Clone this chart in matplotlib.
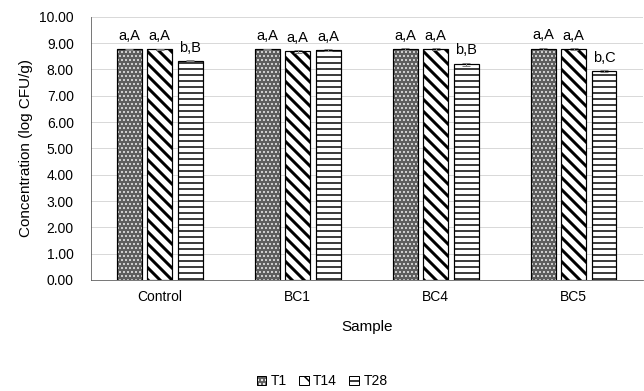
import numpy as np
import matplotlib.pyplot as plt
from matplotlib.patches import Patch
from matplotlib.legend_handler import HandlerTuple

plt.rcParams['font.family'] = ['Liberation Sans', 'DejaVu Sans']

# Data
samples = ['Control', 'BC1', 'BC4', 'BC5']
series = ['T1', 'T14', 'T28']
t1 = [8.77, 8.76, 8.77, 8.79]
t14 = [8.77, 8.69, 8.78, 8.78]
t28 = [8.33, 8.73, 8.20, 7.93]
t1_err = [0.02, 0.03, 0.05, 0.04]
t14_err = [0.02, 0.05, 0.03, 0.03]
t28_err = [0.01, 0.04, 0.06, 0.03]
t1_lab = ['a,A', 'a,A', 'a,A', 'a,A']
t14_lab = ['a,A', 'a,A', 'a,A', 'a,A']
t28_lab = ['b,B', 'a,A', 'b,B', 'b,C']

values = [t1, t14, t28]
errors = [t1_err, t14_err, t28_err]
labels = [t1_lab, t14_lab, t28_lab]

# drawn at 72 dpi so hatch spacing matches the reference
DPI = 72
k = 100 / 72  # font scale
fig = plt.figure(figsize=(644 / DPI, 391 / DPI), dpi=DPI)
ax = fig.add_axes([0.141, 0.284, 0.857, 0.673])

x = np.arange(len(samples))
width = 0.18
step = 0.22
styles = [
    dict(facecolor='#5e5e5e', edgecolor='white', hatch='...', hlw=1.0),
    dict(facecolor='white', edgecolor='black', hatch='\\\\', hlw=3.0),
    dict(facecolor='white', edgecolor='black', hatch='--', hlw=1.5),
]
handles = []
for i in range(3):
    pos = x + (i - 1) * step
    st = styles[i]
    with plt.rc_context({'hatch.linewidth': st['hlw']}):
        ax.bar(pos, values[i], width, facecolor=st['facecolor'],
               edgecolor=st['edgecolor'], hatch=st['hatch'], linewidth=0,
               zorder=3)
        fill = Patch(facecolor=st['facecolor'], edgecolor=st['edgecolor'],
                     hatch=st['hatch'].replace('\\\\', '\\'), linewidth=0)
    ax.bar(pos, values[i], width, fill=False, edgecolor='black',
           linewidth=1.2, zorder=3.5)
    handles.append((fill, Patch(fill=False, edgecolor='black', linewidth=1.0)))
    ax.errorbar(pos, values[i], yerr=errors[i], fmt='none', ecolor='#7f7f7f',
                elinewidth=1, capsize=4, zorder=4)
    for p, v, e, s in zip(pos, values[i], errors[i], labels[i]):
        ax.text(p, v + e + 0.2, s, ha='center', va='bottom', fontsize=10.5 * k)

ax.set_ylim(0, 10)
ax.set_xlim(-0.5, 3.5)
ax.set_yticks(np.arange(0, 11, 1))
ax.set_yticklabels([f'{v:.2f}' for v in range(11)], fontsize=10 * k)
ax.set_xticks(x)
ax.set_xticklabels(samples, fontsize=10 * k)
ax.tick_params(axis='y', length=0, pad=17)
ax.tick_params(axis='x', length=0, pad=10)
ax.grid(axis='y', color='#d9d9d9', linewidth=1, zorder=0)
ax.spines['top'].set_visible(False)
ax.spines['right'].set_visible(False)
ax.spines['left'].set_color('#595959')
ax.spines['bottom'].set_color('#595959')
ax.set_xlabel('Sample', fontsize=11 * k, labelpad=16)
ax.set_ylabel('Concentration (log CFU/g)', fontsize=11 * k, labelpad=6)

with plt.rc_context({'hatch.linewidth': 1.5}):
    fig.legend(handles, series, loc='center', bbox_to_anchor=(0.5, 0.025),
               ncol=3, frameon=False, fontsize=10 * k, handlelength=0.7,
               handleheight=0.7, handletextpad=0.3, columnspacing=0.9,
               handler_map={tuple: HandlerTuple(ndivide=1, pad=0)})

plt.savefig('out.png', dpi=DPI)
plt.close()
